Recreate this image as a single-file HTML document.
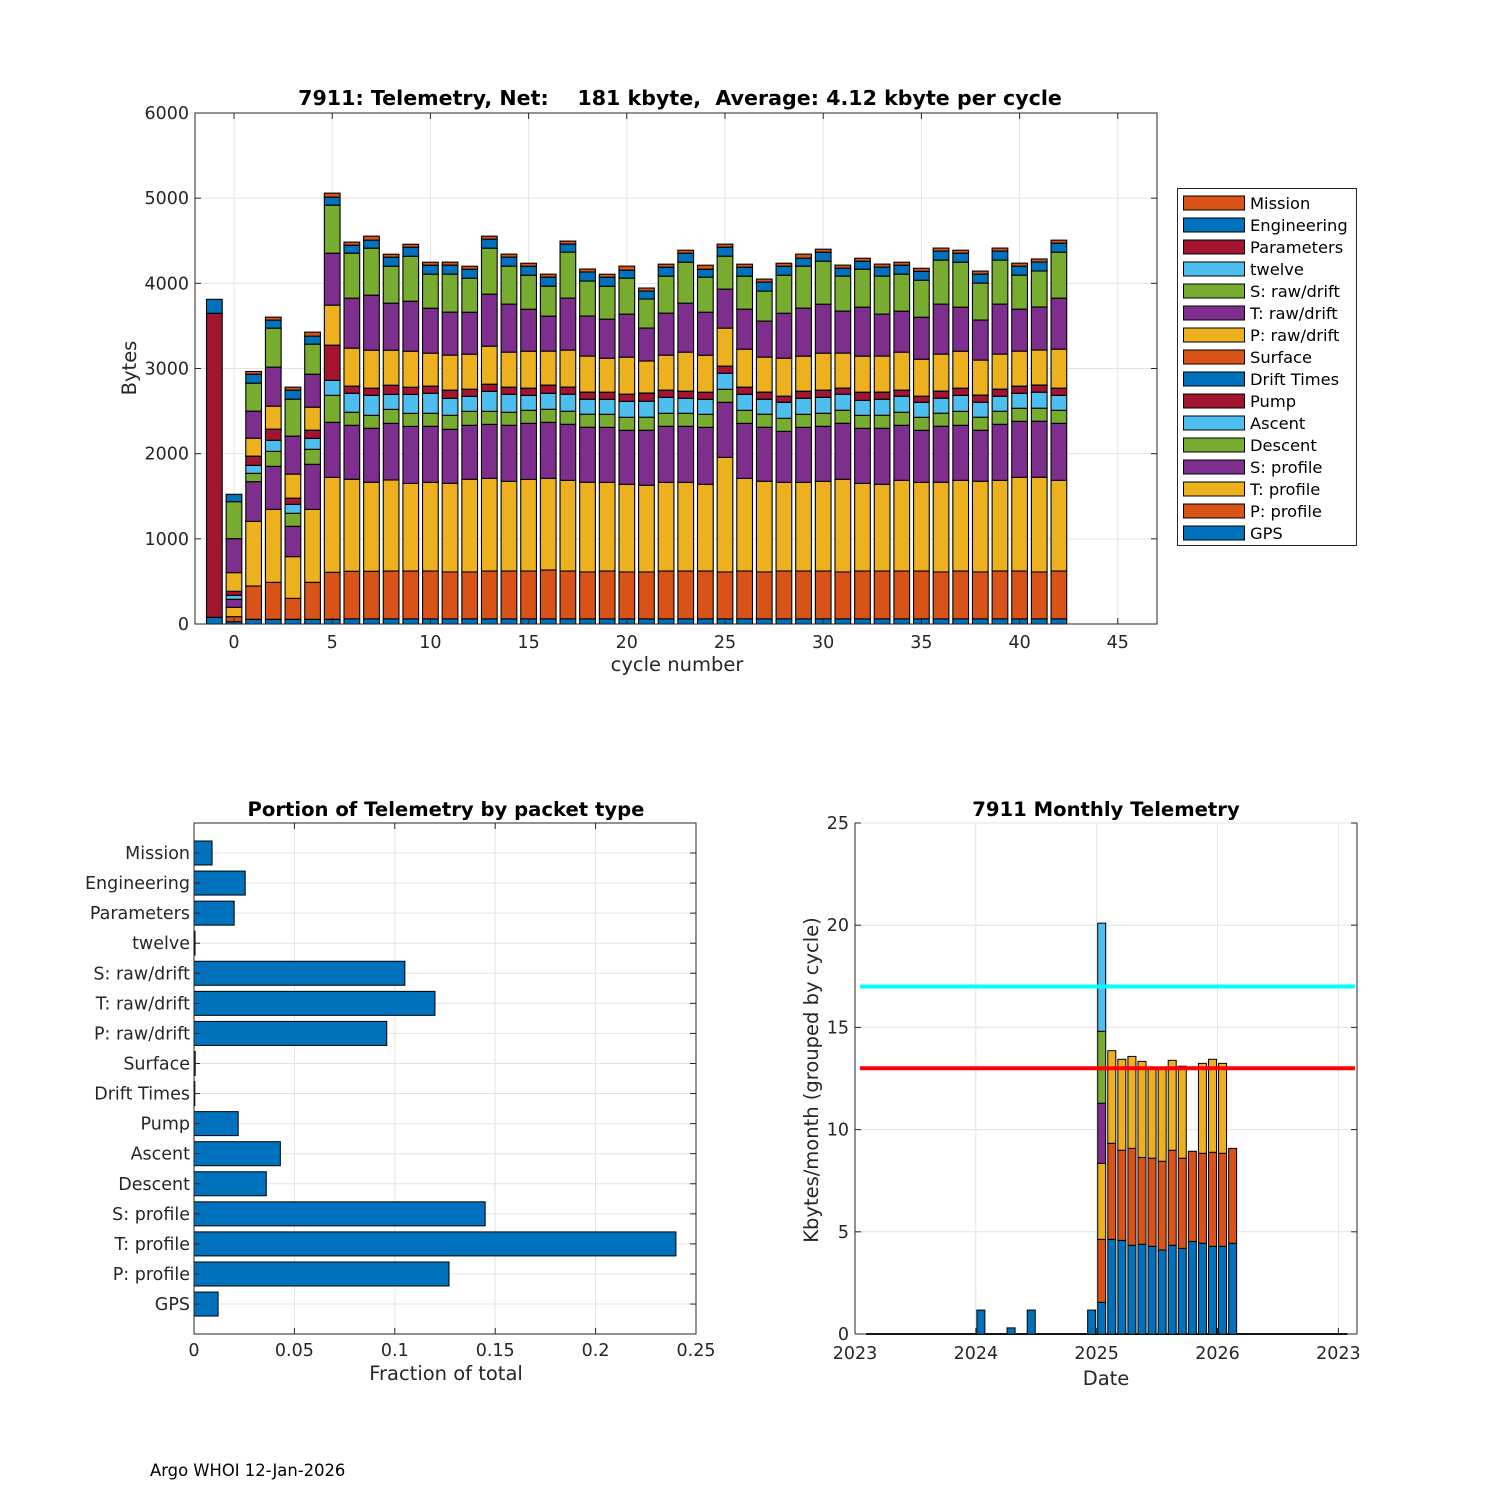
<!DOCTYPE html>
<html><head><meta charset="utf-8"><style>
html,body{margin:0;padding:0;background:#fff;}
svg{display:block;font-family:"DejaVu Sans","Liberation Sans",sans-serif;}
</style></head><body>
<svg id="fig" width="1500" height="1500" viewBox="0 0 1500 1500">
<rect x="0" y="0" width="1500" height="1500" fill="#fff"/>
<g id="top"></g>
<g id="bl"></g>
<g id="br"></g>
<text x="150" y="1476" font-size="16.4" fill="#000">Argo WHOI 12-Jan-2026</text>
</svg>
<script>
const cycles=[-1,0,1,2,3,4,5,6,7,8,9,10,11,12,13,14,15,16,17,18,19,20,21,22,23,24,25,26,27,28,29,30,31,32,33,34,35,36,37,38,39,40,41,42];
const gps=[78,27,55,55,55,55,55,60,60,60,60,60,60,60,60,60,60,60,60,60,60,60,60,60,60,60,60,60,60,60,60,60,60,60,60,60,60,60,60,60,60,60,60,60];
const pProfile=[0,59,391,434,246,434,552,559,559,562,562,562,551,551,562,562,562,574,562,551,562,551,551,562,562,562,551,562,551,562,562,562,551,562,562,562,562,551,562,551,562,562,551,562];
const tProfile=[0,110,759,857,490,857,1115,1080,1045,1069,1029,1041,1041,1088,1088,1053,1076,1076,1065,1053,1041,1029,1018,1041,1041,1018,1346,1088,1065,1041,1041,1053,1088,1029,1018,1065,1041,1053,1065,1065,1065,1100,1112,1065];
const sProfile=[0,94,466,505,356,529,646,634,634,665,669,658,634,634,634,658,658,658,658,646,646,634,646,658,658,669,646,646,634,599,646,646,658,646,658,646,611,658,646,599,658,658,658,669];
const descent=[0,0,98,176,153,176,317,153,152,164,153,153,164,164,153,153,153,153,153,153,153,153,153,153,153,153,153,153,153,153,153,153,153,153,153,153,153,153,164,153,153,153,153,153];
const ascent=[0,47,94,130,105,129,176,223,235,176,223,235,200,176,235,211,176,188,200,176,176,188,188,188,176,176,188,188,176,188,188,188,188,176,188,188,176,176,188,176,176,176,188,176];
const pump=[3570,47,106,129,71,94,411,82,82,106,82,82,94,82,82,82,82,94,82,82,82,82,94,82,82,82,82,82,82,70,82,82,70,94,82,70,70,82,82,82,82,82,82,82];
const driftTimes=[0,0,1,1,1,1,1,1,1,1,1,1,1,1,1,1,1,1,1,1,1,1,1,1,1,1,1,1,1,1,1,1,1,1,1,1,1,1,1,1,1,1,1,1];
const surface=[0,0,1,1,1,1,1,1,1,1,1,1,1,1,1,1,1,1,1,1,1,1,1,1,1,1,1,1,1,1,1,1,1,1,1,1,1,1,1,1,1,1,1,1];
const pRaw=[0,219,211,270,282,270,470,446,446,411,423,387,411,411,446,411,434,399,434,423,399,434,376,411,458,434,446,446,411,446,411,434,411,423,423,446,434,434,434,411,411,411,411,458];
const tRaw=[0,399,317,458,446,387,610,587,646,552,587,528,505,493,611,564,493,411,611,470,458,505,387,493,575,505,458,470,423,528,564,575,493,575,493,481,493,587,517,470,587,493,505,599];
const sRaw=[0,434,329,458,434,353,564,528,552,434,528,399,446,399,540,446,399,352,540,411,387,423,341,434,481,411,387,387,352,446,493,505,411,446,446,434,434,517,528,434,517,399,423,540];
const twelve=[0,0,0,0,0,0,0,0,0,0,0,0,0,0,0,0,0,0,0,0,0,0,0,0,0,0,0,0,0,0,0,0,0,0,0,0,0,0,0,0,0,0,0,0];
const parameters=[0,0,0,0,0,0,0,0,0,0,0,0,0,0,0,0,0,0,0,0,0,0,0,0,0,0,0,0,0,0,0,0,0,0,0,0,0,0,0,0,0,0,0,0];
const engineering=[164,87,105,94,106,94,94,94,94,106,106,106,106,106,106,106,106,106,94,106,106,94,94,106,106,94,106,106,106,106,94,106,94,94,106,106,106,106,106,106,106,106,106,106];
const mission=[0,0,32,35,35,47,47,36,47,35,35,35,35,35,35,35,35,35,35,35,35,47,35,35,35,47,35,35,35,35,47,35,35,35,35,35,35,35,35,35,35,35,35,35];
const yTicksTop=[0,1000,2000,3000,4000,5000,6000];
const xTicksTop=[0,5,10,15,20,25,30,35,40,45];

const packetLabels=["Mission","Engineering","Parameters","twelve","S: raw/drift","T: raw/drift","P: raw/drift","Surface","Drift Times","Pump","Ascent","Descent","S: profile","T: profile","P: profile","GPS"];
const packetFractions=[0.009,0.0255,0.02,0.0005,0.105,0.12,0.096,0.0006,0.0004,0.022,0.043,0.036,0.145,0.24,0.127,0.012];
const xTicksFrac=[0,0.05,0.1,0.15,0.2,0.25];
const xTickFracLabels=["0","0.05","0.1","0.15","0.2","0.25"];

const monthIdx=[12,15,17,23,24,25,26,27,28,29,30,31,32,33,34,35,36,37];
const mBlue=[1.17,0.3,1.17,1.17,1.55,4.63,4.58,4.34,4.39,4.29,4.11,4.34,4.19,4.53,4.44,4.29,4.29,4.44];
const mOrange=[0,0,0,0,3.08,4.70,4.41,4.74,4.25,4.31,4.34,4.65,4.41,4.41,4.40,4.60,4.55,4.64];
const mYellow=[0,0,0,0,3.72,4.53,4.45,4.50,4.70,4.45,4.60,4.40,4.50,0,4.40,4.55,4.40,0];
const mPurple=[0,0,0,0,2.94,0,0,0,0,0,0,0,0,0,0,0,0,0];
const mGreen=[0,0,0,0,3.52,0,0,0,0,0,0,0,0,0,0,0,0,0];
const mCyan=[0,0,0,0,5.29,0,0,0,0,0,0,0,0,0,0,0,0,0];
const yTicksMonth=[0,5,10,15,20,25];
const xTickMonths=[0,12,24,36,48];
const xTickMonthLabels=["2023","2024","2025","2026","2023"];
const cyanLevel=17, redLevel=13;

const NS="http://www.w3.org/2000/svg";
function mk(parent,tag,attrs,text){const e=document.createElementNS(NS,tag);for(const k in attrs)e.setAttribute(k,attrs[k]);if(text!==undefined)e.textContent=text;parent.appendChild(e);return e;}
const TF=17.5;

/* ---------- TOP CHART ---------- */
(function(){
const g=document.getElementById('top');
const L=195,R=1157,T=113,B=624;
const xs=c=>234+c*19.64;
const ys=v=>B-v*(B-T)/6000;
for(const t of yTicksTop){const l=mk(g,'line',{x1:L,x2:R,y1:ys(t),y2:ys(t),stroke:'#e3e3e3','stroke-width':1});

}
for(const t of xTicksTop){const l=mk(g,'line',{x1:xs(t),x2:xs(t),y1:T,y2:B,stroke:'#e3e3e3','stroke-width':1});

}
const series=[[gps,'#0072BD','gps'],[pProfile,'#D95319','p-profile'],[tProfile,'#EDB120','t-profile'],[sProfile,'#7E2F8E','s-profile'],[descent,'#77AC30','descent'],[ascent,'#4DBEEE','ascent'],[pump,'#A2142F','pump'],[driftTimes,'#0072BD','drift-times'],[surface,'#D95319','surface'],[pRaw,'#EDB120','p-raw-drift'],[tRaw,'#7E2F8E','t-raw-drift'],[sRaw,'#77AC30','s-raw-drift'],[twelve,'#4DBEEE','twelve'],[parameters,'#A2142F','parameters'],[engineering,'#0072BD','engineering'],[mission,'#D95319','mission']];
const bw=15.7;
cycles.forEach((c,i)=>{let acc=0;
for(const [arr,col,nm] of series){const v=arr[i];if(v<=0)continue;
const y0=ys(acc),y1=ys(acc+v);acc+=v;
const r=mk(g,'rect',{x:xs(c)-bw/2,y:y1,width:bw,height:y0-y1,fill:col,stroke:'#000','stroke-width':1.1});

}
});
mk(g,'rect',{x:L,y:T,width:R-L,height:B-T,fill:'none',stroke:'#262626','stroke-width':1,});
for(const t of yTicksTop){mk(g,'line',{x1:L,x2:L+6,y1:ys(t),y2:ys(t),stroke:'#262626'});mk(g,'line',{x1:R,x2:R-6,y1:ys(t),y2:ys(t),stroke:'#262626'});
const tx=mk(g,'text',{x:L-6,y:ys(t)+6,'text-anchor':'end','font-size':TF,fill:'#262626'},String(t));

}
for(const t of xTicksTop){mk(g,'line',{x1:xs(t),x2:xs(t),y1:B,y2:B-6,stroke:'#262626'});mk(g,'line',{x1:xs(t),x2:xs(t),y1:T,y2:T+6,stroke:'#262626'});
const tx=mk(g,'text',{x:xs(t),y:B+24,'text-anchor':'middle','font-size':TF,fill:'#262626'},String(t));

}
mk(g,'text',{x:677,y:671,'text-anchor':'middle','font-size':19.5,fill:'#262626',},'cycle number');
mk(g,'text',{x:136,y:368,'text-anchor':'middle','font-size':19.5,fill:'#262626',transform:'rotate(-90 136 368)',},'Bytes');
mk(g,'text',{x:680,y:105,'text-anchor':'middle','font-size':20.6,'font-weight':'bold',fill:'#000',},'7911: Telemetry, Net:    181 kbyte,  Average: 4.12 kbyte per cycle').setAttribute('style','white-space:pre');
const lg=mk(g,'g',{});
mk(lg,'rect',{x:1177.5,y:188.5,width:179,height:357,fill:'#fff',stroke:'#262626','stroke-width':1});
const legendOrder=series.slice().reverse();
const legendNames=["Mission","Engineering","Parameters","twelve","S: raw/drift","T: raw/drift","P: raw/drift","Surface","Drift Times","Pump","Ascent","Descent","S: profile","T: profile","P: profile","GPS"];
legendOrder.forEach((s,k)=>{const yy=203+k*22;
const e=mk(lg,'g',{});


mk(e,'rect',{x:1183.5,y:yy-7,width:61,height:14,fill:s[1],stroke:'#000','stroke-width':1});
mk(e,'text',{x:1250,y:yy+6,'font-size':16.3,fill:'#000'},legendNames[k]);});
})();

/* ---------- BOTTOM LEFT ---------- */
(function(){
const g=document.getElementById('bl');
const L=194,R=696,T=823,B=1334;
const xs=v=>L+v*(R-L)/0.25;
const yc=k=>853+k*30.07;
for(const t of xTicksFrac){const l=mk(g,'line',{x1:xs(t),x2:xs(t),y1:T,y2:B,stroke:'#e3e3e3'});

}
packetLabels.forEach((lab,k)=>{mk(g,'line',{x1:L,x2:R,y1:yc(k),y2:yc(k),stroke:'#e3e3e3'});});
packetLabels.forEach((lab,k)=>{
const r=mk(g,'rect',{x:L,y:yc(k)-12,width:xs(packetFractions[k])-L,height:24,fill:'#0072BD',stroke:'#000','stroke-width':1});


mk(g,'line',{x1:L,x2:L+6,y1:yc(k),y2:yc(k),stroke:'#262626'});
mk(g,'line',{x1:R,x2:R-6,y1:yc(k),y2:yc(k),stroke:'#262626'});
const tx=mk(g,'text',{x:L-4,y:yc(k)+6,'text-anchor':'end','font-size':TF,fill:'#262626'},lab);

});
mk(g,'rect',{x:L,y:T,width:R-L,height:B-T,fill:'none',stroke:'#262626',});
xTicksFrac.forEach((t,k)=>{mk(g,'line',{x1:xs(t),x2:xs(t),y1:B,y2:B-6,stroke:'#262626'});mk(g,'line',{x1:xs(t),x2:xs(t),y1:T,y2:T+6,stroke:'#262626'});
const tx=mk(g,'text',{x:xs(t),y:B+22,'text-anchor':'middle','font-size':TF,fill:'#262626'},xTickFracLabels[k]);

});
mk(g,'text',{x:446,y:1380,'text-anchor':'middle','font-size':19.5,fill:'#262626',},'Fraction of total');
mk(g,'text',{x:446,y:816,'text-anchor':'middle','font-size':19.6,'font-weight':'bold',fill:'#000',},'Portion of Telemetry by packet type');
})();

/* ---------- BOTTOM RIGHT ---------- */
(function(){
const g=document.getElementById('br');
const L=855,R=1357,T=823,B=1334;
const xm=m=>L+m*10.07;
const ys=v=>B-v*(B-T)/25;
for(const t of yTicksMonth){const l=mk(g,'line',{x1:L,x2:R,y1:ys(t),y2:ys(t),stroke:'#e3e3e3'});

}
for(const m of xTickMonths){const l=mk(g,'line',{x1:xm(m),x2:xm(m),y1:T,y2:B,stroke:'#e3e3e3'});

}
mk(g,'line',{x1:xm(1)+1,x2:xm(49)-1,y1:B,y2:B,stroke:'#000','stroke-width':2,});
const ser=[[mBlue,'#0072BD','blue'],[mOrange,'#D95319','orange'],[mYellow,'#EDB120','yellow'],[mPurple,'#7E2F8E','purple'],[mGreen,'#77AC30','green'],[mCyan,'#4DBEEE','cyan']];
monthIdx.forEach((m,i)=>{let acc=0;const cx=xm(m+0.5);
for(const [arr,col,nm] of ser){const v=arr[i];if(v<=0)continue;
const y0=ys(acc),y1=ys(acc+v);acc+=v;
const r=mk(g,'rect',{x:cx-4,y:y1,width:8,height:y0-y1,fill:col,stroke:'#000','stroke-width':1});

}});
mk(g,'line',{x1:860,x2:1355,y1:ys(cyanLevel),y2:ys(cyanLevel),stroke:'#00FFFF','stroke-width':4,});
mk(g,'line',{x1:860,x2:1355,y1:ys(redLevel),y2:ys(redLevel),stroke:'#FF0000','stroke-width':4,});
mk(g,'line',{x1:L,x2:L,y1:T,y2:B,stroke:'#262626'});
mk(g,'line',{x1:R,x2:R,y1:T,y2:B,stroke:'#262626'});
mk(g,'line',{x1:L,x2:R,y1:B,y2:B,stroke:'#262626'});
for(const t of yTicksMonth){mk(g,'line',{x1:L,x2:L+6,y1:ys(t),y2:ys(t),stroke:'#262626'});mk(g,'line',{x1:R,x2:R-6,y1:ys(t),y2:ys(t),stroke:'#262626'});
const tx=mk(g,'text',{x:L-6,y:ys(t)+6,'text-anchor':'end','font-size':TF,fill:'#262626'},String(t));

}
xTickMonths.forEach((m,k)=>{mk(g,'line',{x1:xm(m),x2:xm(m),y1:B,y2:B-6,stroke:'#262626'});
const tx=mk(g,'text',{x:xm(m),y:B+25,'text-anchor':'middle','font-size':TF,fill:'#262626'},xTickMonthLabels[k]);

});
mk(g,'text',{x:1106,y:1385,'text-anchor':'middle','font-size':19.5,fill:'#262626',},'Date');
mk(g,'text',{x:818,y:1080,'text-anchor':'middle','font-size':19.5,fill:'#262626',transform:'rotate(-90 818 1080)',},'Kbytes/month (grouped by cycle)');
mk(g,'text',{x:1106,y:816,'text-anchor':'middle','font-size':19.6,'font-weight':'bold',fill:'#000',},'7911 Monthly Telemetry');
})();
</script>
</body></html>
